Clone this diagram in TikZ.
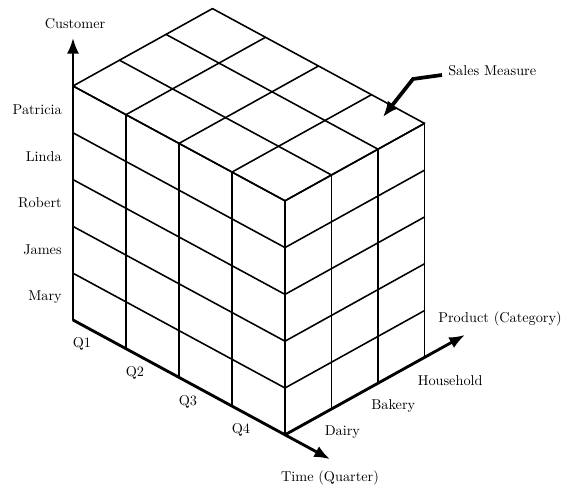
\documentclass[tikz,border=0pt]{standalone}
\usepackage{tikz}
\usetikzlibrary{arrows.meta,calc}

\begin{document}
\begin{tikzpicture}[x=0.7pt,y=-0.7pt,
    cubeline/.style={line width=1.1pt,line cap=round},
    axis/.style={line width=2pt,-{Latex[length=11pt,width=8.5pt]}},
    pointer/.style={line width=2.6pt,line join=miter,-{Latex[length=11pt,width=9pt]}},
    lbl/.style={inner sep=0pt}]
    \useasboundingbox (0,0) rectangle (561,487);
    % Cube: i = time, j = customer, k = product
    \begin{scope}[shift={(73,320)},x={(37.1pt,-20.09pt)},y={(0pt,32.76pt)},z={(32.55pt,18.06pt)}]
        \coordinate (orig) at (0,0,0);
        \coordinate (front) at (4,0,0);
        \coordinate (custTip) at (0,6.03,0);
        \coordinate (timeTip) at (4.85,0,0);
        \coordinate (prodTip) at (4,0,3.87);
        % Front face (time x customer)
        \foreach \i in {0,...,4} \draw[cubeline] (\i,0,0) -- (\i,5,0);
        \foreach \j in {0,...,5} \draw[cubeline] (0,\j,0) -- (4,\j,0);
        % Right face (product x customer)
        \foreach \k in {0,...,3} \draw[cubeline] (4,0,\k) -- (4,5,\k);
        \foreach \j in {0,...,5} \draw[cubeline] (4,\j,0) -- (4,\j,3);
        % Top face
        \foreach \k in {0,...,3} \draw[cubeline] (0,5,\k) -- (4,5,\k);
        \foreach \i in {0,...,4} \draw[cubeline] (\i,5,0) -- (\i,5,3);
        % Axes
        \draw[axis] (orig) -- (custTip);
        \draw[axis] (orig) -- (timeTip);
        \draw[axis] (front) -- (prodTip);
        % Member labels
        \foreach \name [count=\j from 0] in {Mary,James,Robert,Linda,Patricia}
            \node[lbl,anchor=east,xshift=-7.7pt] (cust\j) at (0,\j+0.5,0) {\name};
        \foreach \q in {1,...,4}
            \node[lbl,xshift=6.3pt,yshift=-16.8pt] (q\q) at (\q-1,0,0) {Q\q};
        \foreach \cat [count=\k] in {Dairy,Bakery,Household}
            \node[lbl,anchor=west,xshift=-4.9pt,yshift=-16.1pt] (cat\k) at (4,0,\k) {\cat};
    \end{scope}
    % Axis titles
    \node[lbl] (custAxis) at (75,24) {Customer};
    \node[lbl] (timeAxis) at (330,478) {Time (Quarter)};
    \node[lbl] (prodAxis) at (500,319) {Product (Category)};
    % Measure pointer
    \node[lbl,anchor=west] (sales) at (448,71) {Sales Measure};
    \coordinate (salesStart) at (442,75);
    \coordinate (salesBend) at (413,79);
    \coordinate (salesCell) at (383,117);
    \draw[pointer] (salesStart) -- (salesBend) -- (salesCell);
\end{tikzpicture}
\end{document}
